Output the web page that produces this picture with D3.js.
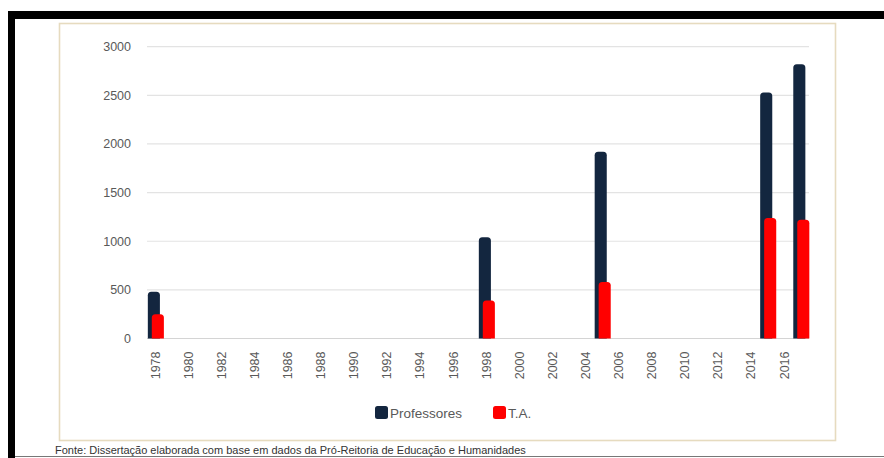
<!DOCTYPE html>
<html>
<head>
<meta charset="utf-8">
<script src="https://cdn.jsdelivr.net/npm/d3@7"></script>
<style>
  html, body { margin: 0; padding: 0; background: #fff; }
  svg { display: block; }
</style>
</head>
<body>
<svg id="chart" width="884" height="458"></svg>
<script>
// ---- data ----
const years = d3.range(1978, 2018);               // category axis 1978..2017
const tickYears = d3.range(1978, 2017, 2);        // labelled every 2 years
const dataYears = [1978, 1998, 2005, 2015, 2017];
const professores = [480, 1040, 1920, 2530, 2820];
const ta = [250, 390, 580, 1240, 1220];
const yTicks = [0, 500, 1000, 1500, 2000, 2500, 3000];
const seriesNames = ["Professores", "T.A."];
const sourceText = "Fonte: Dissertação elaborada com base em dados da Pró-Reitoria de Educação e Humanidades";

// ---- layout ----
const svg = d3.select("#chart");
const W = 884, H = 458;
const plot = { left: 147, right: 809, top: 46.7, bottom: 338.5 };
const colors = { prof: "#13263f", ta: "#ff0000" };

// frame of the screenshot
svg.append("rect").attr("x", 8).attr("y", 11).attr("width", W - 8).attr("height", 8).attr("fill", "#000");
svg.append("rect").attr("x", 8).attr("y", 11).attr("width", 7).attr("height", H - 11).attr("fill", "#000");
// chart box
svg.append("rect").attr("x", 59.5).attr("y", 23.5).attr("width", 776).attr("height", 417)
  .attr("fill", "#fff").attr("stroke", "#e6dbbf").attr("stroke-width", 1.6);

// scales
const x = d3.scaleBand().domain(years).range([plot.left, plot.right]).paddingInner(0).paddingOuter(0);
const y = d3.scaleLinear().domain([0, 3000]).range([plot.bottom, plot.top]);

// gridlines
svg.append("g").selectAll("line").data(yTicks).join("line")
  .attr("x1", plot.left).attr("x2", plot.right)
  .attr("y1", d => y(d)).attr("y2", d => y(d))
  .attr("stroke", d => d === 0 ? "#d4d4d4" : "#e3e3e3").attr("stroke-width", 1.2);

// y axis labels
const yAxis = d3.axisLeft(y).tickValues(yTicks).tickFormat(d3.format("d")).tickSize(0).tickPadding(16);
const gy = svg.append("g").attr("transform", `translate(${plot.left},0)`).call(yAxis);
gy.select(".domain").remove();
gy.selectAll("text").attr("fill", "#595959").style("font-family", "'Liberation Sans', Arial, sans-serif").style("font-size", "12.5px");

// x axis labels (rotated)
const xAxis = d3.axisBottom(x).tickValues(tickYears).tickFormat(d3.format("d")).tickSize(0).tickPadding(0);
const gx = svg.append("g").attr("transform", `translate(0,${plot.bottom})`).call(xAxis);
gx.select(".domain").remove();
gx.selectAll("text")
  .attr("fill", "#595959")
  .style("font-family", "'Liberation Sans', Arial, sans-serif").style("font-size", "12.5px")
  .attr("transform", "rotate(-90)")
  .attr("text-anchor", "end")
  .attr("x", -13).attr("y", 0).attr("dy", "0.35em");

// rounded-top bar path
function topRounded(x0, y0, w, h, r) {
  r = Math.min(r, w / 2, h);
  return `M${x0},${y0 + h} V${y0 + r} Q${x0},${y0} ${x0 + r},${y0} H${x0 + w - r} Q${x0 + w},${y0} ${x0 + w},${y0 + r} V${y0 + h} Z`;
}

const bw = x.bandwidth();
const barW = bw * 0.73;
const profOff = -0.45 * bw;   // dark bar sits left of centre
const taOff = -0.21 * bw;     // red bar overlaps, shifted right

const rows = dataYears.map((yr, i) => ({ yr, p: professores[i], t: ta[i] }));

svg.append("g").selectAll("path").data(rows).join("path")
  .attr("d", d => {
    const cx = x(d.yr) + bw / 2;
    return topRounded(cx + profOff, y(d.p), barW, y(0) - y(d.p), 3.5);
  })
  .attr("fill", colors.prof);

svg.append("g").selectAll("path").data(rows).join("path")
  .attr("d", d => {
    const cx = x(d.yr) + bw / 2;
    return topRounded(cx + taOff, y(d.t), barW, y(0) - y(d.t), 3.5);
  })
  .attr("fill", colors.ta);

// legend
const legend = svg.append("g").attr("transform", "translate(375,406)");
const items = [
  { name: seriesNames[0], color: colors.prof, x: 0 },
  { name: seriesNames[1], color: colors.ta, x: 118 }
];
const li = legend.selectAll("g").data(items).join("g").attr("transform", d => `translate(${d.x},0)`);
li.append("rect").attr("width", 13).attr("height", 13).attr("rx", 2.5).attr("fill", d => d.color);
li.append("text").attr("x", 15).attr("y", 11.5).text(d => d.name)
  .attr("fill", "#595959").style("font-family", "'Liberation Sans', Arial, sans-serif").style("font-size", "13.5px");

// bottom separator and source text
svg.append("line").attr("x1", 15).attr("x2", W).attr("y1", 456.5).attr("y2", 456.5).attr("stroke", "#777").attr("stroke-width", 1.2);
svg.append("text").attr("x", 55).attr("y", 454).text(sourceText)
  .attr("fill", "#333").style("font-family", "'Liberation Sans', Arial, sans-serif").style("font-size", "11px");
</script>
</body>
</html>
